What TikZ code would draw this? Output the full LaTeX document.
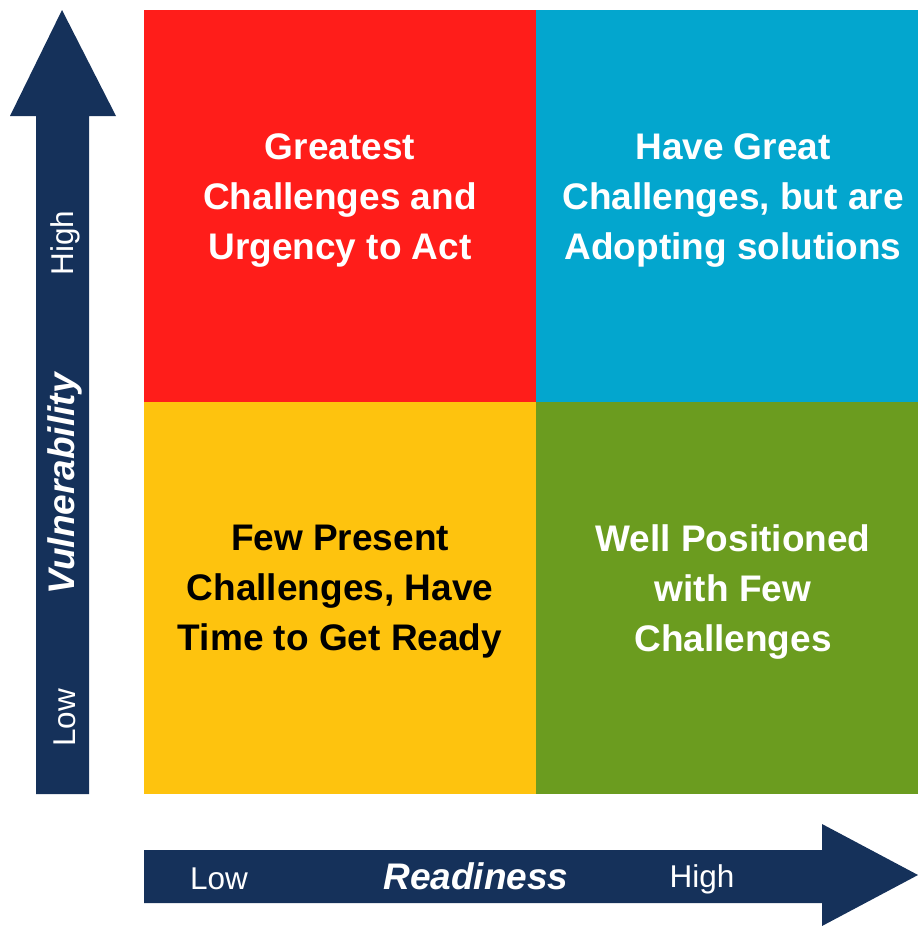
\documentclass[tikz,border=0pt]{standalone}
\usepackage{fontspec}
\setmainfont{Liberation Sans}
\usetikzlibrary{positioning}

\definecolor{quadred}{HTML}{FF1D1A}
\definecolor{quadblue}{HTML}{03A6CE}
\definecolor{quadyellow}{HTML}{FEC30E}
\definecolor{quadgreen}{HTML}{6B9C1F}
\definecolor{axisnavy}{HTML}{15315A}

\begin{document}
\begin{tikzpicture}[ x                 = 1pt
                     , y                 = -1pt
                     , every node/.style = { align      = center
                                           , inner sep  = 0pt
                                           , outer sep  = 0pt
                                           }
                     , node distance     = 0pt
                     ]

  \useasboundingbox (0,0) rectangle (918,926);

  %%
  %% Node types
  %%
  \tikzset{ quad/.style={minimum height=392pt}
          , quadtext/.style={ font=\fontsize{37pt}{50pt}\selectfont\bfseries
                            , text=white
                            , yshift=6pt
                            }
          , axislabel/.style={text=white, font=\fontsize{31.5pt}{38pt}\selectfont}
          , axisname/.style={text=white, font=\fontsize{37pt}{44pt}\selectfont\bfseries\itshape}
          }

  %%
  %% Axes
  %%
  \fill[axisnavy] (36,794) -- (36,116) -- (10,116) -- (62,10)
                  -- (116,116) -- (89,116) -- (89,794) -- cycle;
  \fill[axisnavy] (144,850) -- (822,850) -- (822,824) -- (918,875)
                  -- (822,926) -- (822,903) -- (144,903) -- cycle;

  %%
  %% Quadrants
  %%
  \node (gca) [quad, fill=quadred, minimum width=392pt, anchor=north west] at (144,10) {};
  \node (hgc) [quad, fill=quadblue, minimum width=382pt, right = of gca] {};
  \node (fpc) [quad, fill=quadyellow, minimum width=392pt, below = of gca] {};
  \node (wpf) [quad, fill=quadgreen, minimum width=382pt, below = of hgc] {};

  \node (gcatext) [quadtext] at (gca) {Greatest\\Challenges and\\Urgency to Act};
  \node (hgctext) [quadtext, xshift=6pt] at (hgc) {Have Great\\Challenges, but are\\Adopting solutions};
  \node (fpctext) [quadtext, text=black] at (fpc) {Few Present\\Challenges, Have\\Time to Get Ready};
  \node (wpftext) [quadtext, xshift=6pt] at (wpf) {Well Positioned\\with Few\\Challenges};

  %%
  %% Axis labels
  %%
  \node (vul)  [axisname, rotate=90]  at (65,484)  {Vulnerability};
  \node (vhi)  [axislabel, rotate=90] at (65,243)  {High};
  \node (vlo)  [axislabel, rotate=90] at (65,718)  {Low};

  \node (rdy)  [axisname]  at (476,876) {Readiness};
  \node (rlo)  [axislabel] at (219,879) {Low};
  \node (rhi)  [axislabel] at (702,879) {High};

\end{tikzpicture}
\end{document}
